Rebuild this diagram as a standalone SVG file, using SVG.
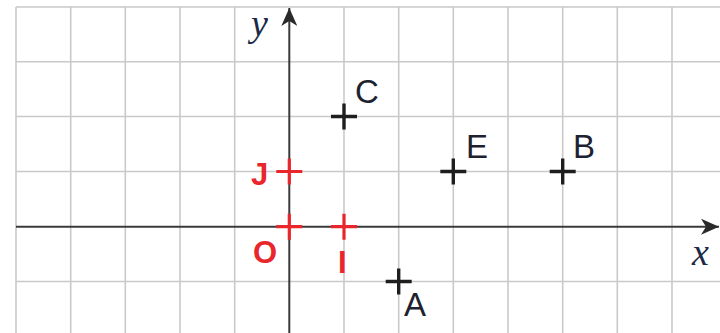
<svg xmlns="http://www.w3.org/2000/svg" width="720" height="333" viewBox="0 0 720 333">
  <style>
    .grid line { stroke: #c9c9c9; stroke-width: 1.6; }
    .axis { stroke: #3a3a3a; stroke-width: 2; fill: none; }
    .cross { stroke: #1e1e1e; stroke-width: 3.4; }
    .rcross { stroke: #e8262b; stroke-width: 3.2; }
    .lbl { font-family: "Liberation Sans", Arial, sans-serif; font-size: 33px; fill: #1e2230; }
    .rlbl { font-family: "Liberation Sans", Arial, sans-serif; font-size: 31px; font-weight: bold; fill: #e8262b; }
    .ax { font-family: "Liberation Serif", "Times New Roman", serif; font-style: italic; font-size: 38px; fill: #1c2a48; }
  </style>
  <defs>
    <marker id="arr" viewBox="0 0 18 16" refX="18" refY="8" markerWidth="18" markerHeight="16" markerUnits="userSpaceOnUse" orient="auto">
      <path d="M0,0 L18,8 L0,16 L5,8 Z" fill="#2a2a2a"/>
    </marker>
  </defs>
  <rect width="720" height="333" fill="#ffffff"/>
  <g id="grid" class="grid">
    <line x1="16" y1="7" x2="16" y2="333"/>
    <line x1="70.7" y1="7" x2="70.7" y2="333"/>
    <line x1="125.3" y1="7" x2="125.3" y2="333"/>
    <line x1="180" y1="7" x2="180" y2="333"/>
    <line x1="234.7" y1="7" x2="234.7" y2="333"/>
    <line x1="344" y1="7" x2="344" y2="333"/>
    <line x1="398.7" y1="7" x2="398.7" y2="333"/>
    <line x1="453.3" y1="7" x2="453.3" y2="333"/>
    <line x1="508" y1="7" x2="508" y2="333"/>
    <line x1="562.7" y1="7" x2="562.7" y2="333"/>
    <line x1="617.3" y1="7" x2="617.3" y2="333"/>
    <line x1="672" y1="7" x2="672" y2="333"/>
    <line x1="16" y1="7" x2="720" y2="7"/>
    <line x1="16" y1="61.7" x2="720" y2="61.7"/>
    <line x1="16" y1="116.5" x2="720" y2="116.5"/>
    <line x1="16" y1="171.5" x2="720" y2="171.5"/>
    <line x1="16" y1="281.5" x2="720" y2="281.5"/>
  </g>
  <g id="connectors">
    <line id="x-axis" class="axis" x1="16" y1="226.7" x2="719" y2="226.7" marker-end="url(#arr)"/>
    <line id="y-axis" class="axis" x1="289.3" y1="333" x2="289.3" y2="8" marker-end="url(#arr)"/>
  </g>
  <g id="axis-labels">
    <text class="ax" x="251" y="36">y</text>
    <text class="ax" x="692" y="265">x</text>
  </g>
  <g id="point-O">
    <path class="rcross" d="M276.3,226.7 H302.3 M289.3,213.7 V239.7"/>
    <text class="rlbl" x="253" y="263">O</text>
  </g>
  <g id="point-I">
    <path class="rcross" d="M331,226.7 H357 M344,213.7 V239.7"/>
    <text class="rlbl" x="338" y="273">I</text>
  </g>
  <g id="point-J">
    <path class="rcross" d="M276.3,171.5 H302.3 M289.3,158.5 V184.5"/>
    <text class="rlbl" x="251" y="185">J</text>
  </g>
  <g id="point-C">
    <path class="cross" d="M331,116.5 H357 M344,103.5 V129.5"/>
    <text class="lbl" x="355" y="103">C</text>
  </g>
  <g id="point-E">
    <path class="cross" d="M440.3,171.5 H466.3 M453.3,158.5 V184.5"/>
    <text class="lbl" x="466" y="158">E</text>
  </g>
  <g id="point-B">
    <path class="cross" d="M549.7,171.5 H575.7 M562.7,158.5 V184.5"/>
    <text class="lbl" x="573" y="158">B</text>
  </g>
  <g id="point-A">
    <path class="cross" d="M385.7,281.5 H411.7 M398.7,268.5 V294.5"/>
    <text class="lbl" x="404" y="316">A</text>
  </g>
</svg>
